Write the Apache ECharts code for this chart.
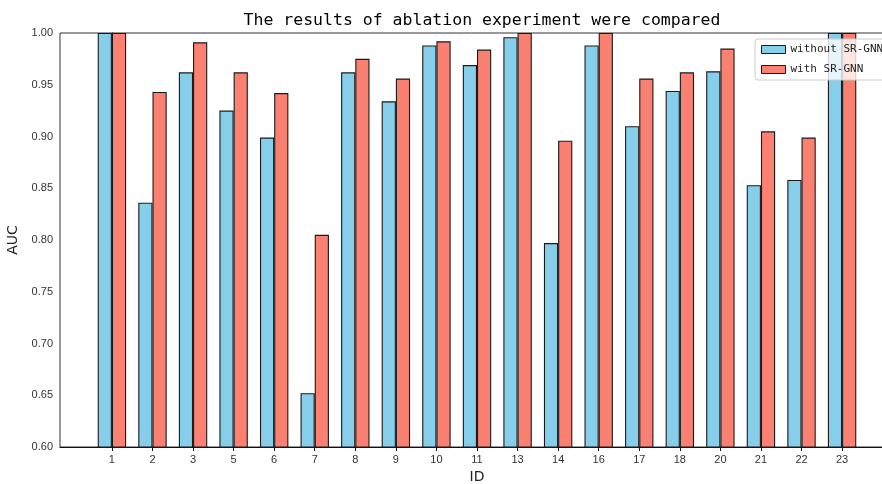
<!DOCTYPE html>
<html>
<head>
<meta charset="utf-8">
<script src="https://cdn.jsdelivr.net/npm/echarts@6/dist/echarts.min.js"></script>
<style>
  html, body { margin: 0; padding: 0; background: #fff; }
  #chart { width: 882px; height: 484px; }
</style>
</head>
<body>
<div id="chart"></div>
<script>
// Experiment IDs shown on the x axis
const ids = ['1', '2', '3', '5', '6', '7', '8', '9', '10', '11', '13', '14', '16', '17', '18', '20', '21', '22', '23'];

// AUC per experiment, model without and with SR-GNN
const withoutSRGNN = [1.000, 0.836, 0.962, 0.925, 0.899, 0.652, 0.962, 0.934, 0.988, 0.969, 0.996, 0.797, 0.988, 0.910, 0.944, 0.963, 0.853, 0.858, 1.000];
const withSRGNN    = [1.000, 0.943, 0.991, 0.962, 0.942, 0.805, 0.975, 0.956, 0.992, 0.984, 1.000, 0.896, 1.000, 0.956, 0.962, 0.985, 0.905, 0.899, 1.000];

// y-axis range and step
const yMin = 0.60, yMax = 1.00, yStep = 0.05;

const idx = ids.map((_, i) => i);
const toPairs = arr => arr.map((v, i) => [i, v]);

const chart = echarts.init(document.getElementById('chart'), null, { renderer: 'canvas' });

const barStyle = color => ({ color: color, borderColor: '#1a1a1a', borderWidth: 1.1 });

chart.setOption({
  animation: false,
  backgroundColor: '#fff',
  title: {
    text: 'The results of ablation experiment were compared',
    left: 477,
    top: 7,
    textAlign: 'center',
    textStyle: { fontFamily: 'DejaVu Sans Mono', fontSize: 16.5, fontWeight: 'normal', color: '#000' }
  },
  legend: {
    left: 755,
    top: 39,
    orient: 'vertical',
    itemWidth: 24,
    itemHeight: 8,
    itemGap: 9,
    padding: [5, 6],
    backgroundColor: 'rgba(255,255,255,0.8)',
    borderColor: '#cccccc',
    borderWidth: 1,
    borderRadius: 3,
    icon: 'rect',
    itemStyle: { borderWidth: 1, borderColor: '#1a1a1a' },
    textStyle: { fontFamily: 'DejaVu Sans Mono', fontSize: 11, color: '#222' },
    data: ['without SR-GNN', 'with SR-GNN']
  },
  grid: {
    left: 60,
    right: -12,
    top: 33,
    bottom: 37,
    show: true,
    borderColor: '#333',
    borderWidth: 1,
    outerBoundsMode: 'none'
  },
  xAxis: {
    type: 'value',
    min: -1.28,
    max: 19.28,
    name: 'ID',
    nameLocation: 'middle',
    nameGap: 22,
    nameTextStyle: { fontSize: 14, color: '#222', fontFamily: 'DejaVu Sans' },
    splitLine: { show: false },
    axisLine: { show: true, lineStyle: { color: '#111', width: 1 } },
    axisTick: { show: true, length: 4, customValues: idx, lineStyle: { color: '#111' } },
    axisLabel: {
      customValues: idx,
      margin: 7,
      fontSize: 11,
      color: '#333',
      formatter: v => ids[Math.round(v)]
    }
  },
  yAxis: {
    type: 'value',
    min: yMin,
    max: yMax,
    interval: yStep,
    name: 'AUC',
    nameLocation: 'middle',
    nameRotate: 90,
    nameGap: 39,
    nameTextStyle: { fontSize: 14, color: '#222', fontFamily: 'DejaVu Sans' },
    splitLine: { show: false },
    axisLine: { show: true, lineStyle: { color: '#111', width: 1 } },
    axisTick: { show: true, length: 4, lineStyle: { color: '#111' } },
    axisLabel: {
      fontSize: 11,
      color: '#333',
      margin: 7,
      formatter: v => v.toFixed(2)
    }
  },
  series: [
    {
      name: 'without SR-GNN',
      type: 'bar',
      data: toPairs(withoutSRGNN),
      barWidth: 14.2,
      barGap: '0%',
      itemStyle: barStyle('#87CEEB')
    },
    {
      name: 'with SR-GNN',
      type: 'bar',
      data: toPairs(withSRGNN),
      barWidth: 14.2,
      barGap: '0%',
      itemStyle: barStyle('#FA8072')
    }
  ]
});
</script>
</body>
</html>
